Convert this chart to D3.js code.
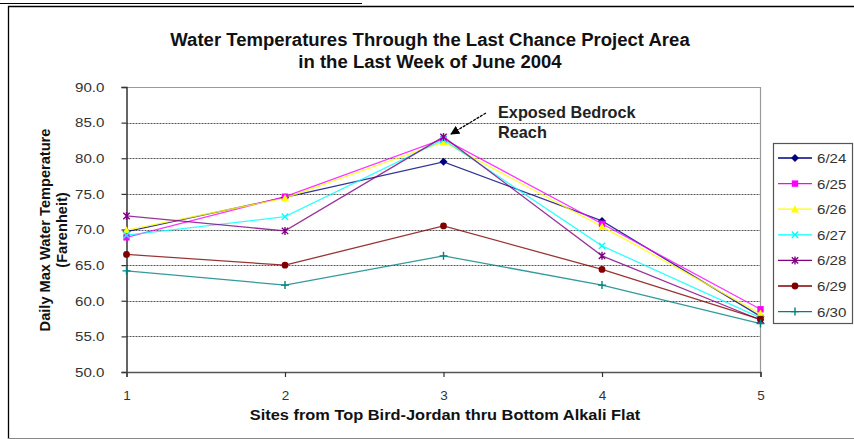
<!DOCTYPE html>
<html><head><meta charset="utf-8">
<script src="https://cdn.jsdelivr.net/npm/d3@7"></script>
<style>
html,body{margin:0;padding:0;background:#fff;}
svg{display:block;font-family:"Liberation Sans",Arial,sans-serif;}
</style></head>
<body>
<svg id="c" width="854" height="439"></svg>
<script>
const sites = [1, 2, 3, 4, 5];
const seriesNames = ["6/24", "6/25", "6/26", "6/27", "6/28", "6/29", "6/30"];
const s0624 = [69.7, 74.5, 79.5, 71.2, 57.8];
const s0625 = [68.9, 74.6, 82.7, 70.8, 58.8];
const s0626 = [69.9, 74.4, 82.3, 70.4, 58.2];
const s0627 = [69.2, 71.8, 82.6, 67.7, 57.6];
const s0628 = [71.9, 69.8, 83.0, 66.3, 57.3];
const s0629 = [66.5, 65.0, 70.5, 64.4, 57.4];
const s0630 = [64.2, 62.2, 66.3, 62.2, 56.8];
const yTicks = [50, 55, 60, 65, 70, 75, 80, 85, 90];
const titleLines = ["Water Temperatures Through the Last Chance Project Area", "in the Last Week of June 2004"];
const yTitleLines = ["Daily Max Water Temperature", "(Farenheit)"];
const xTitle = "Sites from Top Bird-Jordan thru Bottom Alkali Flat";
const annotation = ["Exposed Bedrock", "Reach"];

const allValues = [s0624, s0625, s0626, s0627, s0628, s0629, s0630];
const colors = ["#000080", "#FF00FF", "#FFFF00", "#00FFFF", "#800080", "#800000", "#008080"];
const markers = ["diamond", "square", "triangle", "x", "star", "circle", "plus"];

const svg = d3.select("#c");
const L = 126.5, R = 760.5, T = 87, B = 372;
const x = d3.scaleLinear().domain([1, 5]).range([L, R]);
const y = d3.scaleLinear().domain([50, 90]).range([B, T]);

// outer frame
svg.append("line").attr("x1", 0).attr("x2", 362).attr("y1", 3.5).attr("y2", 3.5).attr("stroke", "#000").attr("stroke-width", 1.2);
svg.append("path").attr("d", "M8.5,439 V6.5 H854").attr("fill", "none").attr("stroke", "#000").attr("stroke-width", 1.3);
svg.append("line").attr("x1", 8).attr("x2", 854).attr("y1", 438.5).attr("y2", 438.5).attr("stroke", "#888").attr("stroke-width", 1);

// title
svg.append("g").attr("transform", "translate(430,0) scale(1.03,1)").selectAll("text").data(titleLines).join("text")
  .attr("x", 0).attr("y", (d, i) => 46 + i * 22)
  .attr("text-anchor", "middle").attr("font-weight", "bold").attr("font-size", 18).attr("fill", "#111")
  .text(d => d);

// gridlines
svg.append("g").selectAll("line").data(yTicks.filter(v => v > 50 && v < 90)).join("line")
  .attr("x1", L).attr("x2", R).attr("y1", d => Math.round(y(d)) + 0.5).attr("y2", d => Math.round(y(d)) + 0.5)
  .attr("stroke", "#555").attr("stroke-width", 1).attr("stroke-dasharray", "2,1");
// plot border top/right
svg.append("path").attr("d", `M${L},${T + 0.5} H${R} V${B}`).attr("fill", "none").attr("stroke", "#999").attr("stroke-width", 1.2);

// axes
const yAxis = d3.axisLeft(y).tickValues(yTicks).tickFormat(d3.format(".1f")).tickSize(5).tickPadding(4);
const gy = svg.append("g").attr("transform", `translate(${L},0)`).call(yAxis);
gy.select(".domain").attr("stroke", "#333").attr("stroke-width", 1.5);
gy.selectAll(".tick line").attr("stroke", "#333").attr("stroke-width", 1.2);
gy.selectAll(".tick text").attr("font-size", 13.5).attr("fill", "#333").attr("font-family", "Liberation Sans, Arial, sans-serif")
  .attr("transform", "translate(-12,0) scale(1.12,1)");

const xAxis = d3.axisBottom(x).tickValues(sites).tickFormat(d3.format("d")).tickSize(5).tickPadding(13);
const gx = svg.append("g").attr("transform", `translate(0,${B})`).call(xAxis);
gx.select(".domain").attr("stroke", "#555").attr("stroke-width", 1.5);
gx.selectAll(".tick line").attr("stroke", "#333").attr("stroke-width", 1.2);
gx.selectAll(".tick text").attr("font-size", 13.5).attr("fill", "#333").attr("font-family", "Liberation Sans, Arial, sans-serif");

// axis titles
svg.append("g").attr("transform", "translate(445,0) scale(1.13,1)").append("text")
  .attr("x", 0).attr("y", 420).attr("text-anchor", "middle")
  .attr("font-weight", "bold").attr("font-size", 14.5).attr("fill", "#111").text(xTitle);
svg.append("g").attr("transform", "translate(0,230) rotate(-90)").selectAll("text").data(yTitleLines).join("text")
  .attr("x", 0).attr("y", (d, i) => 50 + i * 17).attr("text-anchor", "middle")
  .attr("font-weight", "bold").attr("font-size", 14.6).attr("fill", "#111").text(d => d);

// marker drawing
function drawMarker(g, type, color, size) {
  const s = size;
  if (type === "diamond") g.append("path").attr("d", `M0,${-s}L${s},0L0,${s}L${-s},0Z`).attr("fill", color);
  else if (type === "square") g.append("rect").attr("x", -s * 0.8).attr("y", -s * 0.8).attr("width", s * 1.6).attr("height", s * 1.6).attr("fill", color);
  else if (type === "triangle") g.append("path").attr("d", `M0,${-s}L${s},${s * 0.8}L${-s},${s * 0.8}Z`).attr("fill", color);
  else if (type === "x") g.append("path").attr("d", `M${-s * 0.8},${-s * 0.8}L${s * 0.8},${s * 0.8}M${-s * 0.8},${s * 0.8}L${s * 0.8},${-s * 0.8}`).attr("stroke", color).attr("stroke-width", 1.4);
  else if (type === "star") g.append("path").attr("d", `M${-s * 0.8},${-s * 0.8}L${s * 0.8},${s * 0.8}M${-s * 0.8},${s * 0.8}L${s * 0.8},${-s * 0.8}M0,${-s}V${s}`).attr("stroke", color).attr("stroke-width", 1.4);
  else if (type === "circle") g.append("circle").attr("r", s * 0.85).attr("fill", color);
  else if (type === "plus") g.append("path").attr("d", `M0,${-s}V${s}M${-s},0H${s}`).attr("stroke", color).attr("stroke-width", 1.4);
}

const line = d3.line().x((d, i) => x(sites[i])).y(d => y(d));
allValues.forEach((vals, k) => {
  svg.append("path").datum(vals).attr("d", line).attr("fill", "none")
    .attr("stroke", colors[k]).attr("stroke-width", 1.3).attr("opacity", 0.8);
});
allValues.forEach((vals, k) => {
  vals.forEach((v, i) => {
    const g = svg.append("g").attr("transform", `translate(${x(sites[i])},${y(v)})`);
    drawMarker(g, markers[k], colors[k], 4);
  });
});

// annotation
svg.append("g").selectAll("text").data(annotation).join("text")
  .attr("x", 498).attr("y", (d, i) => 118 + i * 19.5).attr("font-weight", "bold").attr("font-size", 16.3).attr("fill", "#222")
  .text(d => d);
svg.append("defs").append("marker").attr("id", "ah").attr("viewBox", "0 0 10 10").attr("refX", 9).attr("refY", 5)
  .attr("markerWidth", 7).attr("markerHeight", 7).attr("orient", "auto")
  .append("path").attr("d", "M0,0L10,5L0,10Z").attr("fill", "#000");
svg.append("line").attr("x1", 486).attr("y1", 113).attr("x2", 451).attr("y2", 134)
  .attr("stroke", "#000").attr("stroke-width", 1.3).attr("stroke-dasharray", "3,1").attr("marker-end", "url(#ah)");

// legend
const LX = 773, LY = 143, LW = 79, LH = 180;
svg.append("rect").attr("x", LX + 0.5).attr("y", LY + 0.5).attr("width", LW).attr("height", LH)
  .attr("fill", "#fff").attr("stroke", "#555").attr("stroke-width", 1.2);
seriesNames.forEach((name, k) => {
  const cy = 158 + k * 25.6;
  svg.append("line").attr("x1", 778).attr("x2", 812).attr("y1", cy).attr("y2", cy)
    .attr("stroke", colors[k]).attr("stroke-width", 1.3);
  const g = svg.append("g").attr("transform", `translate(795,${cy})`);
  drawMarker(g, markers[k], colors[k], 4);
  svg.append("text").attr("x", 817).attr("y", cy + 5).attr("font-size", 13.5).attr("fill", "#333")
    .attr("transform", `translate(817,0) scale(1.12,1) translate(-817,0)`).text(name);
});
</script>
</body></html>
